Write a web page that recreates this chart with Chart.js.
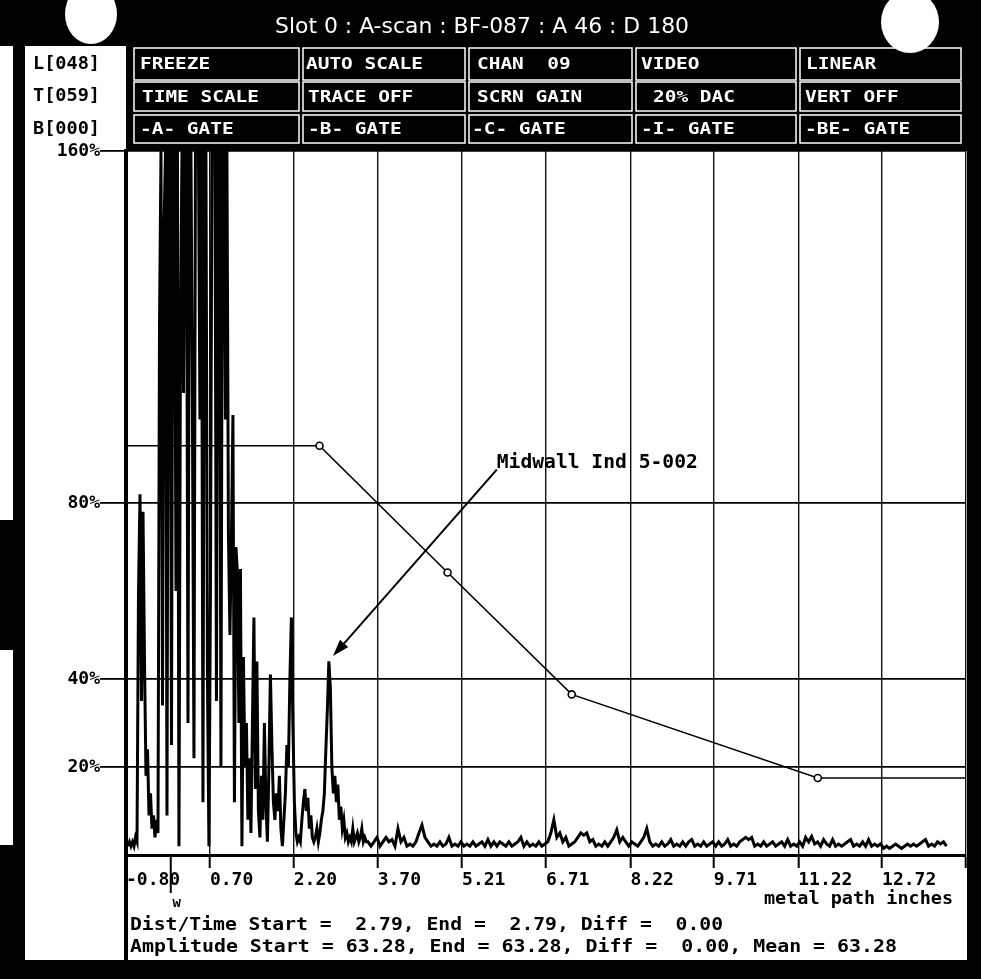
<!DOCTYPE html>
<html>
<head>
<meta charset="utf-8">
<script src="https://cdn.jsdelivr.net/npm/chart.js@4.4.1/dist/chart.umd.min.js"></script>
<style>
  html, body { margin: 0; padding: 0; background: #fff; }
  #wrap { width: 981px; height: 979px; }
</style>
</head>
<body>
<div id="wrap"><canvas id="ascan" width="981" height="979"></canvas></div>
<script>
// axis labels (metal path inches) and amplitude ticks
const xTickLabels = ['-0.80', '0.70', '2.20', '3.70', '5.21', '6.71', '8.22', '9.71', '11.22', '12.72'];
const xAxisMax = 14.22;
const yTickValues = [0, 20, 40, 80, 160];

// A-scan trace, dense part (initial pulse + indication)
const traceStartA = -0.764;
const traceStepA = 0.0268;
const traceAmpA = [
  2, 3, 2, 3, 2, 4, 3, 60, 82, 35,
  78, 44, 18, 24, 9, 14, 6, 9, 4, 8,
  5, 120, 160, 34, 142, 160, 9, 160, 160, 25,
  160, 160, 60, 160, 2, 119, 160, 105, 160, 160,
  30, 160, 160, 99, 22, 160, 160, 160, 99, 160,
  12, 160, 160, 40, 2, 60, 160, 160, 160, 35,
  160, 160, 20, 160, 160, 99, 160, 73, 50, 72,
  100, 12, 70, 64, 30, 65, 2, 45, 20, 30,
  8, 22, 5, 30, 54, 15, 44, 10, 4, 18,
  8, 30, 12, 3, 20, 41, 25, 12, 8, 14,
  10, 18, 6, 2, 8, 14, 25, 20, 40, 54,
  30, 12, 5, 3, 4, 3, 8, 12, 15, 10,
  13, 6, 9, 4, 3, 4, 6, 3, 5, 8,
  10, 14, 24, 33, 44, 38, 20, 14, 18, 12,
  16, 8, 11, 6, 8, 4, 5, 3, 4, 3,
  6, 3, 4, 5, 3, 4, 6, 3, 4, 3
];

// A-scan trace, grass noise part
const traceStartB = 3.527;
const traceStepB = 0.0536;
const traceAmpB = [
  3, 2, 3, 4, 2, 3, 4, 3, 3.5, 2,
  6, 3, 4, 2, 2.5, 2, 3, 5, 6.8, 4,
  3, 2, 2.5, 2, 3, 2, 2.5, 4, 2, 2.5,
  2, 3, 2, 2.5, 2, 3, 2, 2.5, 3, 2,
  3.5, 2, 3, 2, 3, 2.5, 2, 3, 2, 2.5,
  3, 4, 2, 3, 2, 2.5, 2, 3, 2, 2.5,
  3, 5, 8, 4, 5, 3, 4, 2, 2.5, 3,
  4, 5, 4.5, 5, 3, 3.5, 2, 2.5, 2, 3,
  2, 3, 4, 5.7, 3, 4, 3, 2, 3, 2.5,
  2, 3, 4, 6, 3, 2, 2.5, 2, 3, 2,
  2.5, 3.5, 2, 2.5, 2, 3, 2, 3, 3.5, 2,
  2.5, 2, 3, 2, 2.5, 3, 2, 3, 2, 2.5,
  3.5, 2, 2.5, 2, 3, 3.5, 4, 3.5, 4, 2,
  2.5, 2, 3, 2, 2.5, 3, 2, 2.5, 3, 2,
  3.5, 2, 2.5, 2, 3, 2, 4, 3, 4.2, 2.5,
  3, 2, 3.5, 2.5, 2, 3.5, 2, 2.5, 2, 2.5,
  3, 3.5, 2, 2.5, 2, 3, 2, 3.5, 2, 2.5,
  2, 2.5, 1.5, 2, 1.5, 2, 2.5, 2, 1.5, 2,
  2.5, 2, 2.5, 2, 2.5, 3, 3.5, 2, 2.5, 2,
  3, 2.5, 3, 2
];

// DAC curve
const dacX = [-0.80, 2.66, 4.95, 7.17, 11.57, 14.22];
const dacY = [93.0, 93.0, 64.2, 36.5, 17.5, 17.5];

// annotation
const noteText = 'Midwall Ind 5-002';
const noteAt = { x: 5.83, y: 89.0 };
const arrowFrom = { x: 5.83, y: 87.6 };
const arrowTo = { x: 2.90, y: 45.2 };
const wMarkerX = 0.0;

// screen texts
const headerTitle = 'Slot 0 : A-scan : BF-087 : A 46 : D 180';
const statusLabels = ['L[048]', 'T[059]', 'B[000]'];
const menuRows = [
  ['FREEZE', 'AUTO SCALE', 'CHAN  09', 'VIDEO', 'LINEAR'],
  ['TIME SCALE', 'TRACE OFF', 'SCRN GAIN', '20% DAC', 'VERT OFF'],
  ['-A- GATE', '-B- GATE', '-C- GATE', '-I- GATE', '-BE- GATE']
];
const axisTitle = 'metal path inches';
const readout1 = 'Dist/Time Start =  2.79, End =  2.79, Diff =  0.00';
const readout2 = 'Amplitude Start = 63.28, End = 63.28, Diff =  0.00, Mean = 63.28';

const MONO = '"DejaVu Sans Mono", "Liberation Mono", monospace';

const tracePoints = [];
traceAmpA.forEach((v, i) => tracePoints.push({ x: traceStartA + i * traceStepA, y: v }));
traceAmpB.forEach((v, i) => tracePoints.push({ x: traceStartB + i * traceStepB, y: v }));
const dacPoints = dacX.map((x, i) => ({ x: x, y: dacY[i] }));

function fitText(ctx, text, x, y, width, font, color) {
  ctx.save();
  ctx.font = font;
  ctx.fillStyle = color;
  ctx.textAlign = 'left';
  ctx.textBaseline = 'middle';
  const w = ctx.measureText(text).width;
  ctx.translate(x, y);
  ctx.scale(width / w, 1);
  ctx.fillText(text, 0, 0);
  ctx.restore();
}

const screenPlugin = {
  id: 'screen',
  beforeDraw(chart) {
    const ctx = chart.ctx;
    ctx.save();
    ctx.fillStyle = '#fff';
    ctx.fillRect(0, 0, chart.width, chart.height);
    // top band + menu area
    ctx.fillStyle = '#000';
    ctx.fillRect(0, 0, 981, 46);
    ctx.fillRect(126, 46, 855, 105);
    ctx.fillRect(13, 0, 12, 960);
    ctx.fillRect(0, 520, 13, 130);
    fitText(ctx, headerTitle, 275, 28, 414, '21px "Liberation Sans Narrow", "DejaVu Sans Condensed", sans-serif', '#fff');

    // menu boxes
    const cols = [133, 302, 468, 635, 799, 964];
    const rowTop = [48, 82, 115];
    const rowH = [32, 29, 28];
    const textX = [[140, 306, 477, 641, 806], [142, 308, 477, 653, 805], [140, 308, 472, 641, 805]];
    ctx.strokeStyle = '#fff';
    ctx.lineWidth = 1.5;
    menuRows.forEach((row, r) => {
      row.forEach((label, c) => {
        ctx.strokeRect(cols[c] + 1, rowTop[r], cols[c + 1] - cols[c] - 4, rowH[r]);
        fitText(ctx, label, textX[r][c], rowTop[r] + rowH[r] / 2 + 1, label.length * 11.7,
          'bold 16px ' + MONO, '#fff');
      });
    });

    // status labels on the left
    statusLabels.forEach((s, i) => {
      fitText(ctx, s, 33, [65, 97, 130][i], 67, 'bold 17px ' + MONO, '#000');
    });

    // readouts under the axis
    fitText(ctx, axisTitle, 764, 899, 189, 'bold 18px ' + MONO, '#000');
    fitText(ctx, readout1, 130, 925, 593, 'bold 18px ' + MONO, '#000');
    fitText(ctx, readout2, 130, 947, 767, 'bold 18px ' + MONO, '#000');
    ctx.restore();
  },
  afterDatasetsDraw(chart) {
    const ctx = chart.ctx;
    const xs = chart.scales.x, ys = chart.scales.y;
    const a = { x: xs.getPixelForValue(arrowFrom.x), y: ys.getPixelForValue(arrowFrom.y) };
    const b = { x: xs.getPixelForValue(arrowTo.x), y: ys.getPixelForValue(arrowTo.y) };
    const ang = Math.atan2(b.y - a.y, b.x - a.x);
    const len = 17, half = 5.5;
    const bx = b.x - len * Math.cos(ang), by = b.y - len * Math.sin(ang);
    ctx.save();
    ctx.strokeStyle = '#000';
    ctx.fillStyle = '#000';
    ctx.lineWidth = 2;
    ctx.beginPath();
    ctx.moveTo(a.x, a.y);
    ctx.lineTo(bx, by);
    ctx.stroke();
    ctx.beginPath();
    ctx.moveTo(b.x, b.y);
    ctx.lineTo(bx + half * Math.sin(ang), by - half * Math.cos(ang));
    ctx.lineTo(bx - half * Math.sin(ang), by + half * Math.cos(ang));
    ctx.closePath();
    ctx.fill();
    fitText(ctx, noteText, xs.getPixelForValue(noteAt.x), ys.getPixelForValue(noteAt.y), 201,
      'bold 19px ' + MONO, '#000');
    ctx.restore();
  },
  afterDraw(chart) {
    const ctx = chart.ctx;
    const area = chart.chartArea;
    const xs = chart.scales.x;
    ctx.save();
    ctx.fillStyle = '#000';
    // frame pieces
    ctx.fillRect(967, 0, 14, 979);
    ctx.fillRect(0, 960, 981, 19);
    ctx.fillRect(0, 845, 13, 115);
    ctx.fillRect(124, area.bottom, 4, 960 - area.bottom);
    // W marker
    const wx = xs.getPixelForValue(wMarkerX);
    ctx.fillRect(wx - 1, area.bottom, 2, 38);
    ctx.font = 'bold 14px ' + MONO;
    ctx.textAlign = 'center';
    ctx.textBaseline = 'middle';
    ctx.fillText('w', wx + 6, 903);
    // punch holes
    ctx.fillStyle = '#fff';
    ctx.beginPath();
    ctx.ellipse(91, 14, 26, 30, 0, 0, Math.PI * 2);
    ctx.fill();
    ctx.beginPath();
    ctx.ellipse(910, 22, 29, 31, 0, 0, Math.PI * 2);
    ctx.fill();
    ctx.restore();
  }
};

const ctx = document.getElementById('ascan').getContext('2d');
const chart = new Chart(ctx, {
  type: 'line',
  data: {
    datasets: [{
      label: 'A-scan',
      data: tracePoints,
      borderColor: '#000',
      borderWidth: 3,
      pointRadius: 0,
      tension: 0
    }, {
      label: 'DAC',
      data: dacPoints,
      borderColor: '#000',
      borderWidth: 1.6,
      pointRadius: [0, 3.5, 3.5, 3.5, 3.5, 0],
      pointBackgroundColor: '#fff',
      pointBorderColor: '#000',
      pointBorderWidth: 1.6,
      tension: 0
    }]
  },
  options: {
    responsive: false,
    animation: false,
    devicePixelRatio: 1,
    layout: { padding: { left: 0, top: 151, right: 15, bottom: 0 } },
    plugins: {
      legend: { display: false },
      tooltip: { enabled: false }
    },
    scales: {
      x: {
        type: 'linear',
        min: -0.80,
        max: xAxisMax,
        afterBuildTicks: (scale) => {
          scale.ticks = xTickLabels.map(v => ({ value: parseFloat(v) })).concat([{ value: xAxisMax }]);
        },
        afterFit: (scale) => { scale.height = 124; },
        border: { color: '#000', width: 3 },
        grid: {
          color: '#111',
          lineWidth: 1.4,
          tickLength: 13,
          tickColor: '#000',
          tickWidth: 2
        },
        ticks: {
          autoSkip: false,
          maxRotation: 0,
          minRotation: 0,
          align: 'start',
          padding: 2,
          color: '#000',
          font: { family: MONO, size: 18, weight: 'bold' },
          callback: (value, index) => xTickLabels[index] || ''
        }
      },
      y: {
        min: 0,
        max: 160,
        afterBuildTicks: (scale) => {
          scale.ticks = yTickValues.map(v => ({ value: v }));
        },
        afterFit: (scale) => { scale.width = 126; },
        border: { color: '#000', width: 4 },
        grid: {
          color: '#000',
          lineWidth: 1.8,
          tickLength: 26,
          tickWidth: 1.8,
          tickColor: (c) => (c.tick && c.tick.value === 0) ? 'rgba(0,0,0,0)' : '#000'
        },
        ticks: {
          padding: 0,
          color: '#000',
          font: { family: MONO, size: 18, weight: 'bold' },
          callback: (value) => value === 0 ? '' : value + '%'
        }
      }
    }
  },
  plugins: [screenPlugin]
});
</script>
</body>
</html>
